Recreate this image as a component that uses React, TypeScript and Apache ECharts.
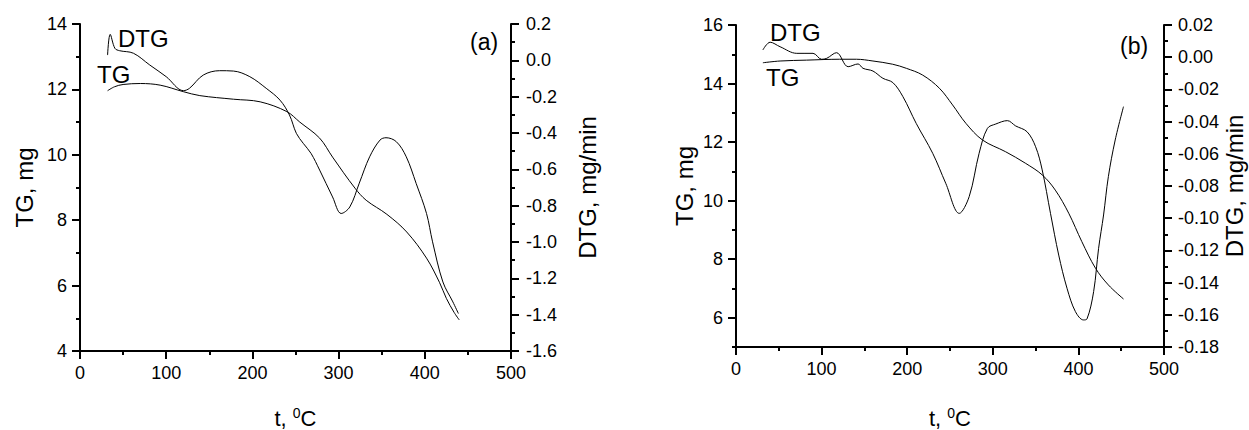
import React, { useEffect, useRef } from 'react';
import * as echarts from 'echarts';

// ---- Data: panel (a) ----
const TG_A_T = [32, 40, 50, 70, 93, 120, 139, 178, 209, 240, 255, 278, 293, 319, 332, 356, 379, 402, 417, 425, 434, 440];
const TG_A = [11.96, 12.08, 12.15, 12.18, 12.13, 11.93, 11.81, 11.7, 11.62, 11.32, 11.0, 10.51, 9.93, 8.98, 8.61, 8.18, 7.64, 6.84, 6.1, 5.61, 5.18, 4.95];
const DTG_A_T = [32, 35, 40.5, 46, 62, 81, 100, 120, 127, 143, 162, 178, 197, 216, 232, 243, 251, 259, 268, 278, 293, 303, 313, 324, 336, 348, 355, 367, 378.5, 390, 402, 409, 421, 432.6, 439];
const DTG_A = [0.029, 0.143, 0.066, 0.053, 0.039, -0.026, -0.09, -0.167, -0.154, -0.081, -0.057, -0.059, -0.09, -0.154, -0.219, -0.301, -0.402, -0.457, -0.512, -0.604, -0.752, -0.843, -0.807, -0.676, -0.531, -0.439, -0.426, -0.448, -0.531, -0.678, -0.843, -0.999, -1.22, -1.33, -1.394];

// ---- Data: panel (b) ----
const TG_B_T = [31.4, 51.5, 82.4, 121, 140.7, 160, 183, 199, 218, 237.6, 253, 268.6, 288, 315, 338, 357.7, 373, 388.7, 404, 420, 435, 452.7];
const TG_B = [14.71, 14.77, 14.8, 14.83, 14.83, 14.77, 14.66, 14.52, 14.29, 13.84, 13.27, 12.64, 12.07, 11.67, 11.28, 10.88, 10.36, 9.57, 8.6, 7.69, 7.12, 6.64];
const DTG_B_T = [31.4, 39.9, 51.5, 71, 90, 100, 106, 117.4, 131, 142.6, 148.4, 160, 171.6, 183.3, 195, 210.5, 229.8, 245, 260.8, 272.4, 284, 293.7, 303.5, 317, 326.7, 340, 350, 357.7, 367.4, 377, 386.7, 396.5, 406, 410, 417.8, 423.6, 429.4, 435, 443, 452.7];
const DTG_B = [0.0045, 0.0093, 0.0065, 0.0024, 0.0024, -0.0013, -0.0007, 0.0028, -0.0059, -0.0042, -0.0069, -0.0086, -0.0131, -0.0158, -0.0245, -0.0411, -0.0597, -0.0783, -0.097, -0.0866, -0.0597, -0.0442, -0.0415, -0.0394, -0.0427, -0.0463, -0.0556, -0.07, -0.097, -0.1229, -0.1435, -0.158, -0.1632, -0.1626, -0.1456, -0.1187, -0.098, -0.0742, -0.0514, -0.0307];

// ---- Tick values ----
const TG_B_MAJOR = [6, 8, 10, 12, 14, 16];
const TG_B_MINOR = [5, 7, 9, 11, 13, 15];

const FONT = '"Liberation Sans", Arial, Helvetica, sans-serif';
const BLACK = '#000';

const pairs = (xs: number[], ys: number[]) => xs.map((x, i) => [x, ys[i]]);

const mkLine = () => ({ show: true, onZero: false, lineStyle: { color: BLACK, width: 2 } });
const mkTick = () => ({ show: true, inside: false, length: 8, lineStyle: { color: BLACK, width: 2 } });
const mkMinor = () => ({ show: true, splitNumber: 2, length: 4, lineStyle: { color: BLACK, width: 2 } });
const labelStyle = { color: BLACK, fontSize: 18, fontFamily: FONT };
const nameStyle = { color: BLACK, fontSize: 24, fontFamily: FONT };

function xAxisCfg(gridIndex: number, nameGap: number) {
  return {
    type: 'value',
    gridIndex,
    position: 'bottom',
    min: 0,
    max: 500,
    interval: 100,
    name: '{n|t, }{s|0}{n|C}',
    nameLocation: 'middle',
    nameGap,
    nameTextStyle: {
      rich: {
        n: { fontSize: 22, color: BLACK, fontFamily: FONT, lineHeight: 24 },
        s: { fontSize: 14, color: BLACK, fontFamily: FONT, verticalAlign: 'top', lineHeight: 14 },
      },
    },
    axisLine: mkLine(),
    axisTick: mkTick(),
    minorTick: mkMinor(),
    axisLabel: { ...labelStyle, margin: 13 },
    splitLine: { show: false },
    minorSplitLine: { show: false },
  };
}

const seriesStyle = {
  type: 'line',
  showSymbol: false,
  symbol: 'none',
  smooth: 0.35,
  lineStyle: { color: BLACK, width: 1 },
  silent: true,
};

const fmt = (d: number) => (v: number) => (Math.abs(v) < 1e-9 ? 0 : v).toFixed(d);

export default function App() {
  const ref = useRef<HTMLDivElement>(null);
  useEffect(() => {
    if (!ref.current) return;
    const chart = echarts.init(ref.current, undefined, { renderer: 'svg' });
    chart.setOption({
      animation: false,
      backgroundColor: '#fff',
      textStyle: { fontFamily: FONT },
      grid: [
        { left: 80, top: 24, width: 431, height: 327, containLabel: false, outerBoundsMode: 'none' },
        { left: 736, top: 25, width: 428, height: 322, containLabel: false, outerBoundsMode: 'none' },
      ],
      xAxis: [xAxisCfg(0, 55), xAxisCfg(1, 59)],
      yAxis: [
        {
          type: 'value', gridIndex: 0, position: 'left', min: 4, max: 14, interval: 2,
          name: 'TG, mg', nameLocation: 'middle', nameGap: 44, nameTextStyle: nameStyle,
          axisLine: mkLine(), axisTick: mkTick(), minorTick: mkMinor(),
          axisLabel: { ...labelStyle, margin: 13 },
          splitLine: { show: false }, minorSplitLine: { show: false },
        },
        {
          type: 'value', gridIndex: 0, position: 'right', min: -1.6, max: 0.2, interval: 0.2,
          name: 'DTG, mg/min', nameLocation: 'middle', nameGap: 64, nameTextStyle: nameStyle,
          axisLine: mkLine(), axisTick: mkTick(), minorTick: mkMinor(),
          axisLabel: { ...labelStyle, margin: 15, formatter: fmt(1) },
          splitLine: { show: false }, minorSplitLine: { show: false },
        },
        {
          type: 'value', gridIndex: 1, position: 'left', min: 5, max: 16, interval: 1,
          name: 'TG, mg', nameLocation: 'middle', nameGap: 40, nameTextStyle: nameStyle,
          axisLine: mkLine(),
          axisTick: { ...mkTick(), customValues: TG_B_MAJOR },
          axisLabel: { ...labelStyle, margin: 13, customValues: TG_B_MAJOR },
          splitLine: { show: false }, minorSplitLine: { show: false },
        },
        {
          type: 'value', gridIndex: 1, position: 'right', min: -0.18, max: 0.02, interval: 0.02,
          name: 'DTG, mg/min', nameLocation: 'middle', nameGap: 58, nameTextStyle: nameStyle,
          axisLine: mkLine(), axisTick: mkTick(), minorTick: mkMinor(),
          axisLabel: { ...labelStyle, margin: 14, formatter: fmt(2) },
          splitLine: { show: false }, minorSplitLine: { show: false },
        },
        {
          type: 'value', gridIndex: 1, position: 'left', min: 5, max: 16, interval: 1,
          axisLine: { show: false, onZero: false },
          axisTick: { show: true, inside: false, length: 4, lineStyle: { color: BLACK, width: 2 }, customValues: TG_B_MINOR },
          axisLabel: { show: false },
          splitLine: { show: false },
        },
      ],
      series: [
        { ...seriesStyle, name: 'TG (a)', xAxisIndex: 0, yAxisIndex: 0, data: pairs(TG_A_T, TG_A) },
        { ...seriesStyle, name: 'DTG (a)', xAxisIndex: 0, yAxisIndex: 1, data: pairs(DTG_A_T, DTG_A) },
        { ...seriesStyle, name: 'TG (b)', xAxisIndex: 1, yAxisIndex: 2, data: pairs(TG_B_T, TG_B) },
        { ...seriesStyle, name: 'DTG (b)', xAxisIndex: 1, yAxisIndex: 3, data: pairs(DTG_B_T, DTG_B) },
      ],
      graphic: [
        { type: 'text', left: 118, top: 26, style: { text: 'DTG', fill: BLACK, font: `24px ${FONT}` } },
        { type: 'text', left: 97, top: 62, style: { text: 'TG', fill: BLACK, font: `24px ${FONT}` } },
        { type: 'text', left: 470, top: 30, style: { text: '(a)', fill: BLACK, font: `23px ${FONT}` } },
        { type: 'text', left: 770, top: 20, style: { text: 'DTG', fill: BLACK, font: `24px ${FONT}` } },
        { type: 'text', left: 766, top: 65, style: { text: 'TG', fill: BLACK, font: `24px ${FONT}` } },
        { type: 'text', left: 1120, top: 34, style: { text: '(b)', fill: BLACK, font: `23px ${FONT}` } },
      ],
    });
    return () => chart.dispose();
  }, []);
  return <div ref={ref} style={{ position: 'fixed', left: 0, top: 0, width: 1249, height: 430 }} />;
}
